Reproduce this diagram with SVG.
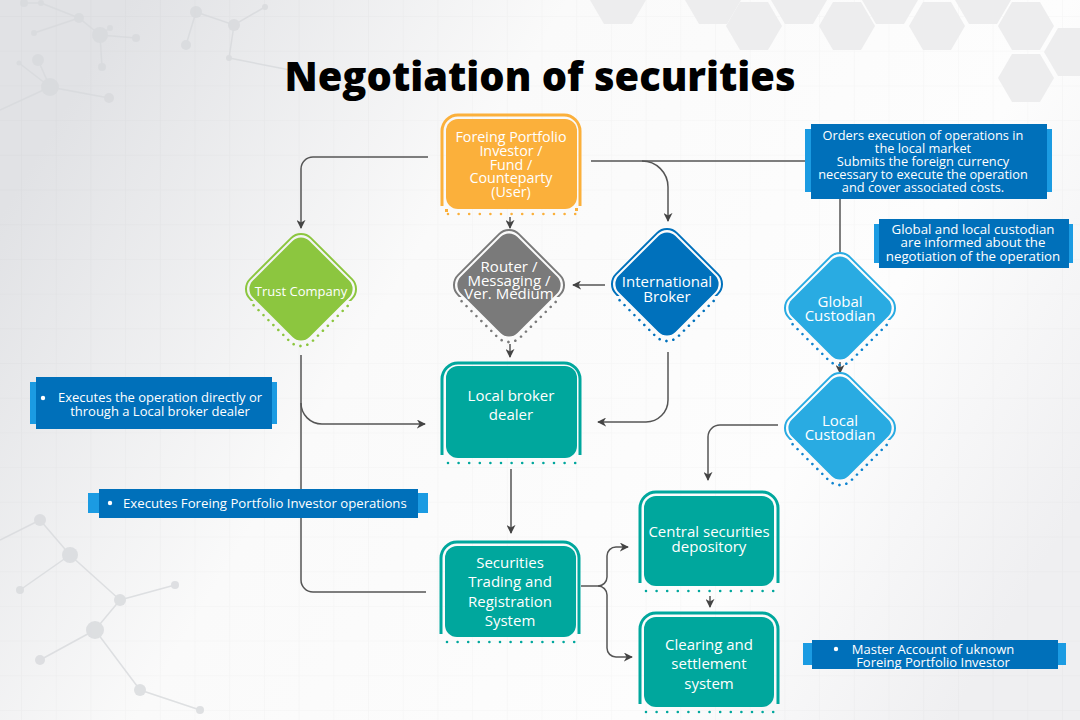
<svg xmlns="http://www.w3.org/2000/svg" width="1080" height="720" viewBox="0 0 1080 720">
<defs>
<linearGradient id="bgGrad" x1="0" y1="0.3" x2="1" y2="0.7">
<stop offset="0" stop-color="#e1e2e5"/>
<stop offset="0.35" stop-color="#fafafa"/>
<stop offset="0.75" stop-color="#fdfdfd"/>
<stop offset="1" stop-color="#efeff1"/>
</linearGradient>
<pattern id="grid" x="21" y="16" width="34.7" height="34.7" patternUnits="userSpaceOnUse">
<path d="M0 0 H34.7 M0 0 V34.7" fill="none" stroke="#000" stroke-opacity="0.03" stroke-width="1"/>
</pattern>
<clipPath id="topHalf" clipPathUnits="userSpaceOnUse"><rect x="-80" y="-80" width="160" height="92"/></clipPath>
<clipPath id="botHalf" clipPathUnits="userSpaceOnUse"><rect x="-80" y="14" width="160" height="70"/></clipPath>
<marker id="arr" viewBox="0 0 10 10" refX="9" refY="5" markerWidth="9" markerHeight="9" markerUnits="userSpaceOnUse" orient="auto">
<path d="M0,0 L10,5 L0,10 L3,5 z" fill="#444"/>
</marker>
<style>
.frame{fill:none;stroke-width:3}
.dots{fill:none;stroke-width:2.6;stroke-linecap:round;stroke-dasharray:0 10.6}
.ddots{fill:none;stroke-width:2.6;stroke-linecap:round;stroke-dasharray:0 7}
.ring{fill:none;stroke-width:2}
.lbl{font-family:"Open Sans","Noto Sans",sans-serif;fill:#fff;text-anchor:middle;font-size:15px}
.conn{fill:none;stroke:#555;stroke-width:1.5}
.call{font-family:"Open Sans","Noto Sans",sans-serif;fill:#fff;font-size:13px}
.cdark{fill:#0070ba}
.clight{fill:#1b9be2}
.mol circle{fill:#d8dadd}
.mol path{stroke:#d8dadd;stroke-width:1.5;fill:none}
.hex{fill:#ededee}
</style>
</defs>

<g id="background">
<rect width="1080" height="720" fill="url(#bgGrad)"/>
<rect width="1080" height="720" fill="url(#grid)"/>
<g class="mol" opacity="0.8">
<path d="M24 3 L41 3 M41 3 L79 18 L100 35 L136 38 M100 35 L110 28 M100 35 L102 67 M79 18 L34 33 M196 12 L234 25 L265 7 M234 25 L229 58 M196 12 L186 45 M38 60 L50 87 L109 98 M50 87 L19 63 M50 87 L0 110 M229 58 L290 70"/>
<circle cx="24" cy="3" r="4"/><circle cx="41" cy="3" r="3"/><circle cx="79" cy="18" r="5"/><circle cx="100" cy="35" r="8"/><circle cx="136" cy="38" r="4"/><circle cx="110" cy="28" r="3"/><circle cx="102" cy="67" r="4"/><circle cx="34" cy="33" r="3"/><circle cx="196" cy="12" r="6"/><circle cx="234" cy="25" r="6"/><circle cx="265" cy="7" r="3"/><circle cx="229" cy="58" r="3"/><circle cx="186" cy="45" r="5"/><circle cx="38" cy="60" r="6"/><circle cx="50" cy="87" r="9"/><circle cx="109" cy="98" r="5"/><circle cx="19" cy="63" r="2.5"/>
<path d="M40 520 L70 555 L120 600 L95 630 L140 690 M70 555 L20 590 M120 600 L175 585 M95 630 L40 660 M140 690 L200 710 M0 540 L40 520"/>
<circle cx="40" cy="520" r="6"/><circle cx="70" cy="555" r="8"/><circle cx="120" cy="600" r="6"/><circle cx="95" cy="630" r="9"/><circle cx="140" cy="690" r="6"/><circle cx="20" cy="590" r="4"/><circle cx="175" cy="585" r="4"/><circle cx="40" cy="660" r="5"/><circle cx="200" cy="710" r="4"/>
</g>
<g id="hexes">
<path class="hex" d="M604 -24 L632 -24 L646 0 L632 24 L604 24 L590 0 Z"/>
<path class="hex" d="M699 -24 L727 -24 L741 0 L727 24 L699 24 L685 0 Z"/>
<path class="hex" d="M785 -24 L813 -24 L827 0 L813 24 L785 24 L771 0 Z"/>
<path class="hex" d="M876 -24 L904 -24 L918 0 L904 24 L876 24 L862 0 Z"/>
<path class="hex" d="M969 -24 L997 -24 L1011 0 L997 24 L969 24 L955 0 Z"/>
<path class="hex" d="M740 2 L768 2 L782 26 L768 50 L740 50 L726 26 Z"/>
<path class="hex" d="M833 2 L861 2 L875 26 L861 50 L833 50 L819 26 Z"/>
<path class="hex" d="M923 2 L951 2 L965 26 L951 50 L923 50 L909 26 Z"/>
<path class="hex" d="M1012 2 L1040 2 L1054 26 L1040 50 L1012 50 L998 26 Z"/>
<path class="hex" d="M1012 54 L1040 54 L1054 78 L1040 102 L1012 102 L998 78 Z"/>
<path class="hex" d="M1058 28 L1086 28 L1100 52 L1086 76 L1058 76 L1044 52 Z"/>
</g>
</g>

<g id="title">
<text x="540" y="91" text-anchor="middle" font-family="'Open Sans','Noto Sans',sans-serif" font-weight="800" font-size="40" fill="#000" textLength="511" lengthAdjust="spacingAndGlyphs">Negotiation of securities</text>
</g>

<g id="connectors">
<path class="conn" d="M428 157 H313 A12 12 0 0 0 301 169 V228" marker-end="url(#arr)"/>
<path class="conn" d="M591 161 H811"/>
<path class="conn" d="M642 161 A26 26 0 0 1 668 187 V221" marker-end="url(#arr)"/>
<path class="conn" d="M510 217 V228" marker-end="url(#arr)"/>
<path class="conn" d="M605 285 H573" marker-end="url(#arr)"/>
<path class="conn" d="M510 344 V357" marker-end="url(#arr)"/>
<path class="conn" d="M668 352 V400 A22 22 0 0 1 646 422 H598" marker-end="url(#arr)"/>
<path class="conn" d="M301 355 V580 A12 12 0 0 0 313 592 H426"/>
<path class="conn" d="M301 403 A21 21 0 0 0 322 424 H425" marker-end="url(#arr)"/>
<path class="conn" d="M511 469 V533" marker-end="url(#arr)"/>
<path class="conn" d="M581 586 H598 A9 9 0 0 0 607 577 V556 A9 9 0 0 1 616 547 H628" marker-end="url(#arr)"/>
<path class="conn" d="M598 586 A9 9 0 0 1 607 595 V648 A9 9 0 0 0 616 657 H632" marker-end="url(#arr)"/>
<path class="conn" d="M710 596 V607" marker-end="url(#arr)"/>
<path class="conn" d="M840 199 V253"/>
<path class="conn" d="M840 362 V373" marker-end="url(#arr)"/>
<path class="conn" d="M778 425 H720 A12 12 0 0 0 708 437 V480" marker-end="url(#arr)"/>
</g>

<g id="node-investor">
<path class="frame" stroke="#fbb03b" d="M442 206 V131 A16 16 0 0 1 458 115 H564 A16 16 0 0 1 580 131 V206"/>
<rect x="446" y="119" width="131" height="90" rx="12" fill="#fbb03b"/>
<line class="dots" stroke="#fbb03b" x1="448" y1="214" x2="576" y2="214"/>
<rect x="445" y="209" width="3" height="3" fill="#fbb03b"/><rect x="575" y="208" width="3" height="3" fill="#fbb03b"/>
<text class="lbl" style="font-size:14.3px" x="511" y="142">Foreing Portfolio</text>
<text class="lbl" style="font-size:14.3px" x="511" y="156">Investor /</text>
<text class="lbl" style="font-size:14.3px" x="511" y="169.5">Fund /</text>
<text class="lbl" style="font-size:14.3px" x="511" y="183">Counteparty</text>
<text class="lbl" style="font-size:14.3px" x="511" y="197">(User)</text>
</g>

<g id="node-trust" transform="translate(301,289)">
<g clip-path="url(#topHalf)"><rect class="ring" stroke="#8cc63f" x="-43" y="-43" width="86" height="86" rx="14" transform="rotate(45)"/></g>
<rect x="-40" y="-40" width="80" height="80" rx="12" transform="rotate(45)" fill="#8cc63f"/>
<g clip-path="url(#botHalf)"><rect class="ddots" stroke="#8cc63f" x="-45" y="-45" width="90" height="90" rx="16" transform="rotate(45)"/></g>
<text class="lbl" style="font-size:13px" x="0" y="7">Trust Company</text>
</g>

<g id="node-router" transform="translate(509,285)">
<g clip-path="url(#topHalf)"><rect class="ring" stroke="#7a7a7a" x="-43" y="-43" width="86" height="86" rx="14" transform="rotate(45)"/></g>
<rect x="-40" y="-40" width="80" height="80" rx="12" transform="rotate(45)" fill="#7a7a7a"/>
<g clip-path="url(#botHalf)"><rect class="ddots" stroke="#7a7a7a" x="-45" y="-45" width="90" height="90" rx="16" transform="rotate(45)"/></g>
<text class="lbl" x="0" y="-13.5">Router /</text>
<text class="lbl" x="0" y="1">Messaging /</text>
<text class="lbl" x="0" y="14">Ver. Medium</text>
</g>

<g id="node-intl" transform="translate(667,284)">
<g clip-path="url(#topHalf)"><rect class="ring" stroke="#0071bc" x="-43" y="-43" width="86" height="86" rx="14" transform="rotate(45)"/></g>
<rect x="-40" y="-40" width="80" height="80" rx="12" transform="rotate(45)" fill="#0071bc"/>
<g clip-path="url(#botHalf)"><rect class="ddots" stroke="#0071bc" x="-45" y="-45" width="90" height="90" rx="16" transform="rotate(45)"/></g>
<text class="lbl" x="0" y="2.5">International</text>
<text class="lbl" x="0" y="17.5">Broker</text>
</g>

<g id="node-global" transform="translate(840,308)">
<g clip-path="url(#topHalf)"><rect class="ring" stroke="#29abe2" x="-43" y="-43" width="86" height="86" rx="14" transform="rotate(45)"/></g>
<rect x="-40" y="-40" width="80" height="80" rx="12" transform="rotate(45)" fill="#29abe2"/>
<g clip-path="url(#botHalf)"><rect class="ddots" stroke="#0f84d0" x="-45" y="-45" width="90" height="90" rx="16" transform="rotate(45)"/></g>
<text class="lbl" x="0" y="-1.5">Global</text>
<text class="lbl" x="0" y="12.5">Custodian</text>
</g>

<g id="node-local-custodian" transform="translate(840,428)">
<g clip-path="url(#topHalf)"><rect class="ring" stroke="#29abe2" x="-43" y="-43" width="86" height="86" rx="14" transform="rotate(45)"/></g>
<rect x="-40" y="-40" width="80" height="80" rx="12" transform="rotate(45)" fill="#29abe2"/>
<g clip-path="url(#botHalf)"><rect class="ddots" stroke="#0f84d0" x="-45" y="-45" width="90" height="90" rx="16" transform="rotate(45)"/></g>
<text class="lbl" x="0" y="-2">Local</text>
<text class="lbl" x="0" y="12">Custodian</text>
</g>

<g id="node-local-broker">
<path class="frame" stroke="#00a79d" d="M442 455 V379 A16 16 0 0 1 458 363 H564 A16 16 0 0 1 580 379 V455"/>
<rect x="446" y="366" width="131" height="92" rx="12" fill="#00a79d"/>
<line class="dots" stroke="#00a79d" x1="448" y1="463" x2="576" y2="463"/>
<text class="lbl" x="511" y="401">Local broker</text>
<text class="lbl" x="511" y="420">dealer</text>
</g>

<g id="node-strs">
<path class="frame" stroke="#00a79d" d="M441 634 V558 A16 16 0 0 1 457 542 H563 A16 16 0 0 1 579 558 V634"/>
<rect x="445" y="546" width="131" height="91" rx="12" fill="#00a79d"/>
<line class="dots" stroke="#00a79d" x1="447" y1="642" x2="575" y2="642"/>
<text class="lbl" x="510" y="567.5">Securities</text>
<text class="lbl" x="510" y="587">Trading and</text>
<text class="lbl" x="510" y="607">Registration</text>
<text class="lbl" x="510" y="626">System</text>
</g>

<g id="node-csd">
<path class="frame" stroke="#00a79d" d="M640 583 V508 A16 16 0 0 1 656 492 H762 A16 16 0 0 1 778 508 V583"/>
<rect x="644" y="496" width="130" height="90" rx="12" fill="#00a79d"/>
<line class="dots" stroke="#00a79d" x1="646" y1="591" x2="774" y2="591"/>
<text class="lbl" x="709" y="537">Central securities</text>
<text class="lbl" x="709" y="552">depository</text>
</g>

<g id="node-clearing">
<path class="frame" stroke="#00a79d" d="M640 704 V629 A16 16 0 0 1 656 613 H762 A16 16 0 0 1 778 629 V704"/>
<rect x="644" y="617" width="130" height="90" rx="12" fill="#00a79d"/>
<line class="dots" stroke="#00a79d" x1="646" y1="712" x2="774" y2="712"/>
<text class="lbl" x="709" y="649.5">Clearing and</text>
<text class="lbl" x="709" y="668.5">settlement</text>
<text class="lbl" x="709" y="688.5">system</text>
</g>

<g id="callout-orders">
<rect class="clight" x="805" y="129" width="247" height="63"/>
<rect class="cdark" x="811" y="124" width="236" height="75"/>
<g class="call" text-anchor="middle" style="font-size:12.8px">
<text x="923" y="139.5">Orders execution of operations in</text>
<text x="923" y="152.5">the local market</text>
<text x="923" y="165.5">Submits the foreign currency</text>
<text x="923" y="178.5">necessary to execute the operation</text>
<text x="923" y="191.5">and cover associated costs.</text>
</g>
</g>

<g id="callout-custodian">
<rect class="clight" x="874" y="224" width="199" height="39"/>
<rect class="cdark" x="879" y="219" width="190" height="49"/>
<g class="call" text-anchor="middle" style="font-size:13.3px">
<text x="973" y="233.5">Global and local custodian</text>
<text x="973" y="247">are informed about the</text>
<text x="973" y="260.5">negotiation of the operation</text>
</g>
</g>

<g id="callout-executes-direct">
<rect class="clight" x="30" y="382" width="247" height="42"/>
<rect class="cdark" x="36" y="377" width="236" height="52"/>
<circle cx="43" cy="398" r="2.2" fill="#fff"/>
<g class="call" text-anchor="middle">
<text x="160" y="402">Executes the operation directly or</text>
<text x="160" y="416">through a Local broker dealer</text>
</g>
</g>

<g id="callout-executes-fpi">
<rect class="clight" x="88" y="493" width="340" height="20"/>
<rect class="cdark" x="99" y="489" width="319" height="29"/>
<circle cx="110" cy="503" r="2.2" fill="#fff"/>
<text class="call" style="font-size:13.2px" x="123" y="507.5">Executes Foreing Portfolio Investor operations</text>
</g>

<g id="callout-master">
<rect class="clight" x="803" y="643" width="263" height="22"/>
<rect class="cdark" x="812" y="640" width="246" height="29"/>
<circle cx="836" cy="649" r="2.2" fill="#fff"/>
<g class="call" text-anchor="middle">
<text x="933" y="653.5">Master Account of uknown</text>
<text x="933" y="666.5">Foreing Portfolio Investor</text>
</g>
</g>
</svg>
